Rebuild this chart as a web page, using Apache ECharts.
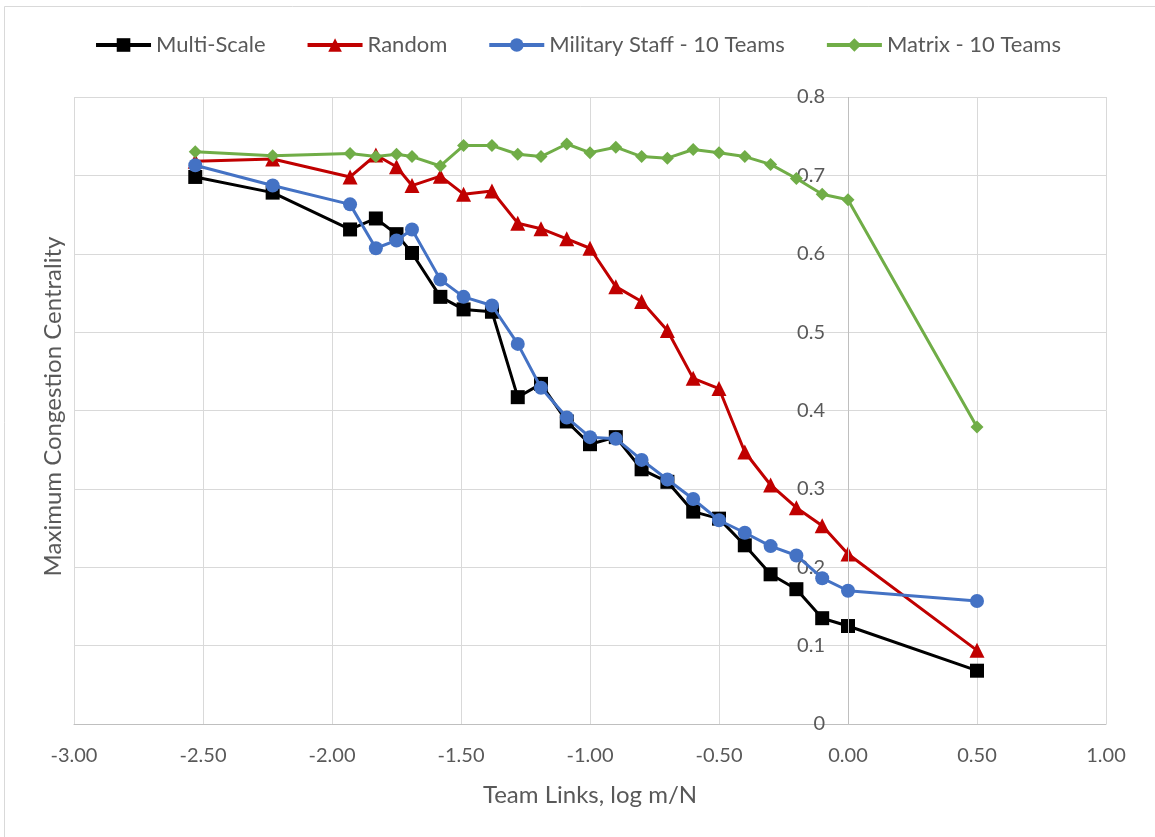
<!DOCTYPE html>
<html><head><meta charset="utf-8">
<script src="https://cdn.jsdelivr.net/npm/echarts@6/dist/echarts.min.js"></script>
<style>html,body{margin:0;padding:0;background:#fff}#c{width:1155px;height:837px}</style>
</head><body><div id="c"></div>
<script>
const xValues = [-2.53, -2.23, -1.93, -1.83, -1.75, -1.69, -1.58, -1.49, -1.38, -1.28, -1.19, -1.09, -1.00, -0.90, -0.80, -0.70, -0.60, -0.50, -0.40, -0.30, -0.20, -0.10, 0.00, 0.50];
const multiScale = [0.698, 0.678, 0.631, 0.645, 0.625, 0.601, 0.545, 0.529, 0.526, 0.417, 0.434, 0.386, 0.357, 0.366, 0.325, 0.309, 0.271, 0.262, 0.228, 0.191, 0.172, 0.135, 0.125, 0.068];
const random = [0.718, 0.721, 0.698, 0.726, 0.711, 0.687, 0.699, 0.676, 0.680, 0.639, 0.632, 0.619, 0.607, 0.558, 0.539, 0.502, 0.441, 0.428, 0.347, 0.305, 0.276, 0.253, 0.217, 0.094];
const militaryStaff = [0.713, 0.687, 0.663, 0.607, 0.617, 0.631, 0.567, 0.545, 0.534, 0.485, 0.429, 0.391, 0.366, 0.364, 0.337, 0.312, 0.287, 0.260, 0.244, 0.227, 0.215, 0.186, 0.170, 0.157];
const matrix = [0.730, 0.725, 0.728, 0.724, 0.727, 0.724, 0.712, 0.738, 0.738, 0.727, 0.724, 0.740, 0.729, 0.736, 0.724, 0.722, 0.733, 0.729, 0.724, 0.714, 0.696, 0.676, 0.669, 0.379];
const seriesNames = ['Multi-Scale', 'Random', 'Military Staff - 10 Teams', 'Matrix - 10 Teams'];
const xAxisTitle = 'Team Links, log m/N';
const yAxisTitle = 'Maximum Congestion Centrality';
const xMin = -3, xMax = 1, xStep = 0.5;
const yMin = 0, yMax = 0.8, yStep = 0.1;

const FONT = 'Lato';
const TXT = '#595959';
const pairs = ys => xValues.map((x, i) => [x, ys[i]]);

const W = 1155, H = 837;
const gridL = 74, gridR = 49, gridT = 97, gridB = 113;
const plotW = W - gridL - gridR;
// y labels sit just left of the vertical axis at x = 0
const zeroOffset = (0 - xMin) / (xMax - xMin) * plotW;
const yLabelMargin = -(zeroOffset - 23);

const styles = [
  {color: '#000000', symbol: 'rect', size: 14},
  {color: '#C00000', symbol: 'triangle', size: 15},
  {color: '#4472C4', symbol: 'circle', size: 14},
  {color: '#70AD47', symbol: 'diamond', size: 13}
];
const allData = [multiScale, random, militaryStaff, matrix];

const chart = echarts.init(document.getElementById('c'), null, {renderer: 'canvas'});
chart.setOption({
  animation: false,
  backgroundColor: '#ffffff',
  textStyle: {fontFamily: FONT},
  graphic: [{
    type: 'rect', silent: true, z: -10,
    shape: {x: 4.5, y: 6.5, width: 1160, height: 860},
    style: {fill: 'none', stroke: '#D9D9D9', lineWidth: 1}
  }, {
    type: 'text', silent: true,
    x: 53, y: gridT + (H - gridT - gridB) / 2 - 4, rotation: Math.PI / 2,
    style: {text: yAxisTitle, fill: TXT, font: '24px ' + FONT, textAlign: 'center', textVerticalAlign: 'middle'}
  }],
  legend: {
    top: 29, left: 'center',
    itemWidth: 55, itemHeight: 17, itemGap: 40,
    lineStyle: {width: 4},
    textStyle: {fontFamily: FONT, fontSize: 22, color: TXT},
    data: seriesNames
  },
  grid: {left: gridL, right: gridR, top: gridT, bottom: gridB, containLabel: false, outerBoundsMode: 'none'},
  xAxis: {
    type: 'value', min: xMin, max: xMax, interval: xStep,
    name: xAxisTitle, nameLocation: 'middle', nameGap: 59,
    nameTextStyle: {fontFamily: FONT, fontSize: 24, color: TXT},
    axisLine: {show: true, onZero: false, lineStyle: {color: '#BFBFBF', width: 1}},
    axisTick: {show: false},
    axisLabel: {formatter: v => v.toFixed(2), fontFamily: FONT, fontSize: 20, color: TXT, margin: 22},
    splitLine: {show: true, lineStyle: {color: '#D9D9D9', width: 1}}
  },
  yAxis: {
    type: 'value', min: yMin, max: yMax, interval: yStep,
    axisLine: {show: false},
    axisTick: {show: false},
    axisLabel: {formatter: v => (v === 0 ? '0' : v.toFixed(1)), fontFamily: FONT, fontSize: 20, color: TXT, margin: yLabelMargin},
    splitLine: {show: true, lineStyle: {color: '#D9D9D9', width: 1}}
  },
  series: seriesNames.map((name, i) => ({
    name, type: 'line',
    data: pairs(allData[i]),
    symbol: styles[i].symbol, symbolSize: styles[i].size,
    lineStyle: {color: styles[i].color, width: 3},
    itemStyle: {color: styles[i].color},
    emphasis: {disabled: true},
    z: 3 + i,
    markLine: i === 0 ? {
      silent: true, symbol: 'none', animation: false,
      label: {show: false},
      lineStyle: {color: '#BFBFBF', type: 'solid', width: 1},
      emphasis: {disabled: true},
      data: [{xAxis: 0}]
    } : undefined
  }))
});
</script>
</body></html>
